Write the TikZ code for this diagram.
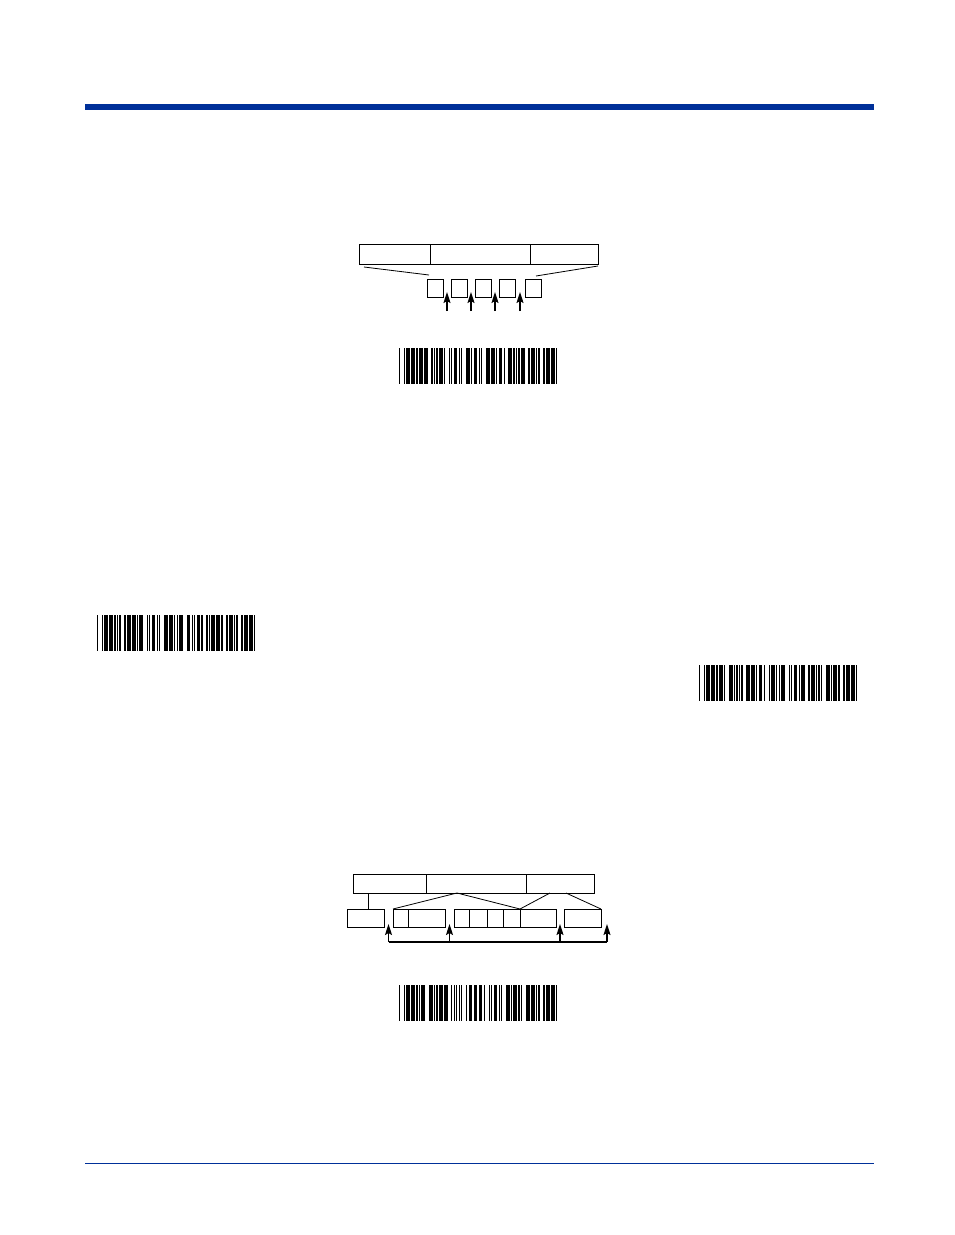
\documentclass[tikz,border=0pt]{standalone}
\usetikzlibrary{positioning,calc,arrows.meta}
\definecolor{hwblue}{RGB}{0,48,153}

% Code 39 element patterns, bar/space alternating, 1 = wide
\expandafter\def\csname bcpS\endcsname{0,1,0,0,1,0,1,0,0}
\expandafter\def\csname bcp0\endcsname{0,0,0,1,1,0,1,0,0}
\expandafter\def\csname bcp1\endcsname{1,0,0,1,0,0,0,0,1}
\expandafter\def\csname bcp2\endcsname{0,0,1,1,0,0,0,0,1}
\expandafter\def\csname bcp3\endcsname{1,0,1,1,0,0,0,0,0}
\expandafter\def\csname bcp4\endcsname{0,0,0,1,1,0,0,0,1}
\expandafter\def\csname bcp5\endcsname{1,0,0,1,1,0,0,0,0}
\expandafter\def\csname bcp6\endcsname{0,0,1,1,1,0,0,0,0}
\expandafter\def\csname bcp7\endcsname{0,0,0,1,0,0,1,0,1}
\expandafter\def\csname bcp8\endcsname{1,0,0,1,0,0,1,0,0}
\expandafter\def\csname bcp9\endcsname{0,0,1,1,0,0,1,0,0}

\newcommand\bcunit{1.244}
% \barcode{x}{y}{chars}
\newcommand\barcode[3]{%
  \xdef\bcx{#1}%
  \foreach \c in {S,#3,S}{%
    \edef\bcpat{\csname bcp\c\endcsname}%
    \foreach \d [count=\i] in \bcpat {%
      \pgfmathsetmacro\bcw{(\d==1 ? 3 : 1)*\bcunit}%
      \ifodd\i\relax \fill (\bcx,#2) rectangle ++(\bcw,36);\fi
      \pgfmathsetmacro\bcn{\bcx+\bcw}\xdef\bcx{\bcn}%
    }%
    \pgfmathsetmacro\bcn{\bcx+\bcunit}\xdef\bcx{\bcn}%
  }}

\begin{document}
\begin{tikzpicture}[x=1pt,y=-1pt,
    fld/.style={draw,rectangle,line width=0.8pt,inner sep=0pt,outer sep=0pt,minimum height=20},
    cell/.style={draw,rectangle,line width=0.8pt,inner sep=0pt,outer sep=0pt,minimum width=16,minimum height=18},
    part/.style={draw,rectangle,line width=0.8pt,inner sep=0pt,outer sep=0pt,minimum height=18},
    arr/.style={line width=1.5pt,-{Stealth[length=11pt,width=7pt,inset=2pt]}}]
    \useasboundingbox (0,0) rectangle (954,1235);

    % page rules
    \fill[hwblue] (85,104) rectangle (874,110);
    \draw[hwblue,line width=1pt] (85,1163) -- (874,1163);

    % upper diagram
    \node[fld,minimum width=71] (hdr1) at (394.5,254) {};
    \node[fld,minimum width=100,right=0pt of hdr1] (hdr2) {};
    \node[fld,minimum width=68,right=0pt of hdr2] (hdr3) {};

    \node[cell] (c1) at (435,288) {};
    \node[cell,right=8pt of c1] (c2) {};
    \node[cell,right=8pt of c2] (c3) {};
    \node[cell,right=8pt of c3] (c4) {};
    \node[cell,right=10pt of c4] (c5) {};

    \draw[line width=0.8pt] ([shift={(5,3)}]hdr1.south west) -- ([shift={(2,-4)}]c1.north west);
    \draw[line width=0.8pt] ([shift={(-5,-3)}]c5.north east) -- ([shift={(0,2)}]hdr3.south east);

    \foreach \l/\r in {c1/c2,c2/c3,c3/c4,c4/c5}
        \draw[arr] ($(\l.south east)!.5!(\r.south west)+(0,14)$) -- ++(0,-19);

    \barcode{399}{348}{3,1,4,0,5,9}

    % barcodes in the middle
    \barcode{97}{615}{7,2,0,6,1,8}
    \barcode{699}{665}{5,0,8,2,9,4}

    % lower diagram
    \node[fld,minimum width=73,minimum height=19] (rec1) at (389.5,883.5) {};
    \node[fld,minimum width=100,minimum height=19,right=0pt of rec1] (rec2) {};
    \node[fld,minimum width=68,minimum height=19,right=0pt of rec2] (rec3) {};

    \node[part,minimum width=37] (pa) at (365.5,918) {};
    \node[part,minimum width=15] (pb1) at (400.5,918) {};
    \node[part,minimum width=37,right=0pt of pb1] (pb2) {};
    \node[part,minimum width=15] (pc1) at (461.5,918) {};
    \node[part,minimum width=18,right=0pt of pc1] (pc2) {};
    \node[part,minimum width=16,right=0pt of pc2] (pc3) {};
    \node[part,minimum width=17,right=0pt of pc3] (pc4) {};
    \node[part,minimum width=36,right=0pt of pc4] (pc5) {};
    \node[part,minimum width=37] (pd) at (582.5,918) {};

    \coordinate (m1) at ([xshift=31]rec2.south west);
    \draw[line width=0.8pt] ([xshift=2.5]pa.north) -- ([xshift=2.5]pa.north |- rec1.south);
    \draw[line width=0.8pt] (pb1.north west) -- (m1) -- (pc5.north west) -- ([xshift=24]rec3.south west);
    \draw[line width=0.8pt] ([xshift=40]rec3.south west) -- (pd.north east);

    \coordinate (g1) at ($(pa.south east)!.5!(pb1.south west)$);
    \coordinate (g2) at ($(pb2.south east)!.5!(pc1.south west)$);
    \coordinate (g3) at ($(pc5.south east)!.5!(pd.south west)$);
    \coordinate (g4) at ([xshift=6]pd.south east);
    \draw[line width=1.2pt] ($(g1)+(0,15)$) -- ($(g4)+(0,15)$);
    \foreach \g in {g1,g2,g3,g4}
        \draw[arr] ($(\g)+(0,15)$) -- ++(0,-18);

    \barcode{399}{985}{6,3,7,1,4,0}
\end{tikzpicture}
\end{document}
